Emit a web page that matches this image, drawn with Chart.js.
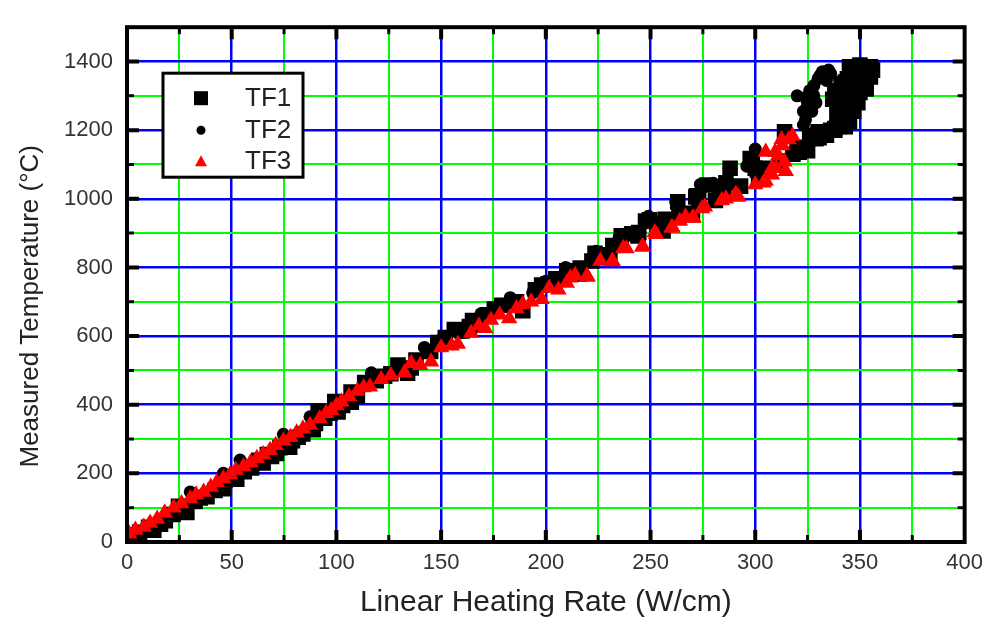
<!DOCTYPE html>
<html><head><meta charset="utf-8">
<script src="https://cdn.jsdelivr.net/npm/chart.js@4"></script>
<style>html,body{margin:0;padding:0;background:#fff;overflow:hidden}</style>
</head><body>
<canvas id="c" width="991" height="618"></canvas>
<script>
// ---- data ----
const tf1Rate = [2.4,4.9,6,10.3,12.8,16,18.3,22,24.6,26,28.6,32.5,35,38.2,42,46,46.8,50,52.4,56,59.5,63,65,67,69,71.4,73,77.7,79,81.7,84,88.9,90,91.3,94.4,97,99.2,100.8,103,107,107.1,110,113.5,119,123,126,129.4,134,135.7,138,145,148.4,152,156.3,160,163.5,165,167.5,172,175.4,179,186,189,195,198,201,204.8,210,212,216,216.4,222,223.5,230,230.6,232,236,241,244,244.4,247.6,249.5,256,257,257,258,263,263.6,270,271.6,272,281,283,277,273,285,286,288,293,297.6,298.6,300,301,301.6,305,312,318,322,321,326,330,336,330.5,340,343,314,320,325,329,334,338,345,350,355,353,348,344,350,341,347,352,338,344,350,341,347,340,346,339,344,340,345,338,356,352,355,349,343,346,353,348,344,349,342,347,341,343,337];
const tf1Temp = [20,16,28,43,34,52,62,80,104,100,86,118,128,132,150,155,179,190,183,205,216,238,230,255,249,258,275,276,295,305,315,327,345,381,361,375,409,379,398,437,407,425,465,470,483,490,516,492,507,530,555,581,596,619,615,628,645,633,662,679,690,700,674,735,749,752,767,790,790,781,798,819,841,837,836,864,892,898,892,902,935,939,906,940,930,930,991,948,958,1005,1009,995,1035,1040,1000,1033,1047,1089,1037,1117,1108,1089,1084,1061,1089,1110,1130,1145,1136,1185,1195,1200,1178,1211,1239,1195,1150,1140,1175,1185,1205,1385,1390,1385,1370,1365,1350,1350,1335,1330,1340,1315,1310,1310,1290,1290,1270,1270,1245,1245,1220,1225,1200,1375,1360,1355,1378,1340,1320,1320,1300,1280,1280,1255,1255,1235,1210,1290];

const tf2Rate = [8,15,30.2,40,46,54,60,74.7,80,87.4,95,110,116.7,128,142,150,160,169,178,183,193.7,200,209.5,215,224,235,242,249,255,262,273.8,280,287.5,296,300,313.8,332,336,330,334,328,326,320,324,328,325,329,323,327,324,323,331,335];
const tf2Temp = [30,50,146,150,200,239,225,314,290,365,372,430,493,500,567,590,610,665,690,712,726,760,800,795,847,888,905,949,935,991,1042,1045,1089,1095,1145,1192,1370,1365,1350,1345,1330,1315,1300,1295,1300,1275,1280,1255,1255,1230,1215,1360,1375];

const tf3Rate = [1,4,8,11,14.4,18,22.3,26,30.2,33,36.6,40,42.9,46,49.3,52,55.6,59,62,65,68.3,71,74.7,78,81,84,87.4,92,95,97.6,100,102.4,106,110,113,116,121.4,126,132.5,135.7,140,145.2,150,155,158,164.3,168,171,173.8,178,182.5,186,189,193,198,201.6,206,210,211.7,214,219.6,220,226,231.7,232,237,238.5,246,246.4,252,252.7,260,260.6,264,266.7,270,270.6,274.6,276,284,286,290.7,292,300,304,305,308,308,309.5,310,312.6,314,314.6,311,313,316,317.8,305];
const tf3Temp = [24,35,44,55,67,85,100,112,127,138,146,160,174,185,197,210,220,232,244,255,267,282,295,305,318,330,341,360,375,384,398,409,425,440,450,452,474,485,493,521,515,525,567,572,577,609,630,623,647,662,651,680,693,700,707,740,735,755,770,777,775,772,819,819,817,856,855,860,860,902,897,916,916,935,948,944,944,972,977,995,1000,1014,1005,1042,1047,1052,1070,1089,1136,1089,1173,1108,1080,1126,1155,1173,1183,1136];

const seriesNames = ['TF1','TF2','TF3'];
const xTickLabels = ['0','50','100','150','200','250','300','350','400'];
const yTickLabels = ['0','200','400','600','800','1000','1200','1400'];

const zip = (xs, ys) => xs.map((x, i) => ({x: x, y: ys[i]}));
const FONT = "'Liberation Sans', Arial, Helvetica, sans-serif";

// frame, inside tick marks and boxed legend
const decor = {
  id: 'decor',
  afterDraw(chart) {
    const ctx = chart.ctx, ca = chart.chartArea;
    const xs = chart.scales.x, ys = chart.scales.y;
    ctx.save();
    ctx.strokeStyle = '#000';
    ctx.lineCap = 'butt';
    for (let v = 25; v < 400; v += 25) {
      const major = xTickLabels.includes(String(v));
      const len = major ? 12 : 7;
      ctx.lineWidth = major ? 4 : 3;
      const px = xs.getPixelForValue(v);
      ctx.beginPath();
      ctx.moveTo(px, ca.bottom); ctx.lineTo(px, ca.bottom - len);
      ctx.moveTo(px, ca.top); ctx.lineTo(px, ca.top + len);
      ctx.stroke();
    }
    for (let v = 100; v < 1500; v += 100) {
      const major = yTickLabels.includes(String(v));
      const len = major ? 12 : 7;
      ctx.lineWidth = major ? 4 : 3;
      const py = ys.getPixelForValue(v);
      ctx.beginPath();
      ctx.moveTo(ca.left, py); ctx.lineTo(ca.left + len, py);
      ctx.moveTo(ca.right, py); ctx.lineTo(ca.right - len, py);
      ctx.stroke();
    }
    ctx.lineWidth = 4;
    ctx.strokeRect(ca.left, ca.top, ca.right - ca.left, ca.bottom - ca.top);

    // legend
    const lx = ca.left + 36, ly = ca.top + 46, lw = 140, lh = 104;
    ctx.fillStyle = '#fff';
    ctx.fillRect(lx, ly, lw, lh);
    ctx.lineWidth = 3;
    ctx.strokeRect(lx, ly, lw, lh);
    const rows = [25, 57, 88];
    chart.data.datasets.forEach((ds, i) => {
      const cx = lx + 38, cy = ly + rows[i];
      ctx.fillStyle = ds.backgroundColor;
      ctx.beginPath();
      if (ds.pointStyle === 'rect') {
        ctx.rect(cx - 7, cy - 7, 14, 14);
      } else if (ds.pointStyle === 'circle') {
        ctx.arc(cx, cy, 4.5, 0, Math.PI * 2);
      } else {
        ctx.moveTo(cx, cy - 6); ctx.lineTo(cx + 6, cy + 5); ctx.lineTo(cx - 6, cy + 5); ctx.closePath();
      }
      ctx.fill();
      ctx.fillStyle = '#222';
      ctx.font = '26px ' + FONT;
      ctx.textAlign = 'left';
      ctx.textBaseline = 'middle';
      ctx.fillText(ds.label, lx + 82, cy + 1);
    });
    ctx.restore();
  }
};

new Chart(document.getElementById('c'), {
  type: 'scatter',
  data: {
    datasets: [
      {label: seriesNames[0], data: zip(tf1Rate, tf1Temp), pointStyle: 'rect', pointRadius: 11, pointHoverRadius: 11,
       backgroundColor: '#000', borderColor: '#000', borderWidth: 0, order: 2},
      {label: seriesNames[1], data: zip(tf2Rate, tf2Temp), pointStyle: 'circle', pointRadius: 6.5, pointHoverRadius: 6.5,
       backgroundColor: '#000', borderColor: '#000', borderWidth: 0, order: 1},
      {label: seriesNames[2], data: zip(tf3Rate, tf3Temp), pointStyle: 'triangle', pointRadius: 9.5, pointHoverRadius: 9.5,
       backgroundColor: '#ff0000', borderColor: '#ff0000', borderWidth: 0, order: 0}
    ]
  },
  options: {
    responsive: false,
    animation: false,
    devicePixelRatio: 1,
    layout: {padding: {top: 6, right: 24, left: 0, bottom: 0}},
    plugins: {legend: {display: false}, tooltip: {enabled: false}},
    scales: {
      x: {
        type: 'linear', min: 0, max: 400,
        afterFit: s => { s.height = 76; },
        border: {display: false},
        grid: {
          drawTicks: false,
          color: c => (c.tick && xTickLabels.includes(String(c.tick.value))) ? '#0000ff' : '#00ff00',
          lineWidth: c => (c.tick && xTickLabels.includes(String(c.tick.value))) ? 2.5 : 2
        },
        ticks: {
          stepSize: 25, autoSkip: false, maxRotation: 0, padding: 8,
          color: '#333', font: {family: FONT, size: 22},
          callback: v => xTickLabels.includes(String(v)) ? String(v) : ''
        },
        title: {display: true, text: 'Linear Heating Rate (W/cm)', color: '#222',
                font: {family: FONT, size: 30, lineHeight: 1}, padding: 0}
      },
      y: {
        type: 'linear', min: 0, max: 1500,
        afterFit: s => { s.width = 127; },
        border: {display: false},
        grid: {
          drawTicks: false,
          color: c => (c.tick && yTickLabels.includes(String(c.tick.value))) ? '#0000ff' : '#00ff00',
          lineWidth: c => (c.tick && yTickLabels.includes(String(c.tick.value))) ? 2.5 : 2
        },
        ticks: {
          stepSize: 100, autoSkip: false, padding: 14,
          color: '#333', font: {family: FONT, size: 22},
          callback: v => v === 1500 ? null : (yTickLabels.includes(String(v)) ? String(v) : '')
        },
        title: {display: true, text: 'Measured Temperature (\u00B0C)      ', color: '#222',
                font: {family: FONT, size: 26, lineHeight: 1}, padding: {top: 18, bottom: 0}}
      }
    }
  },
  plugins: [decor]
});
</script>
</body></html>
